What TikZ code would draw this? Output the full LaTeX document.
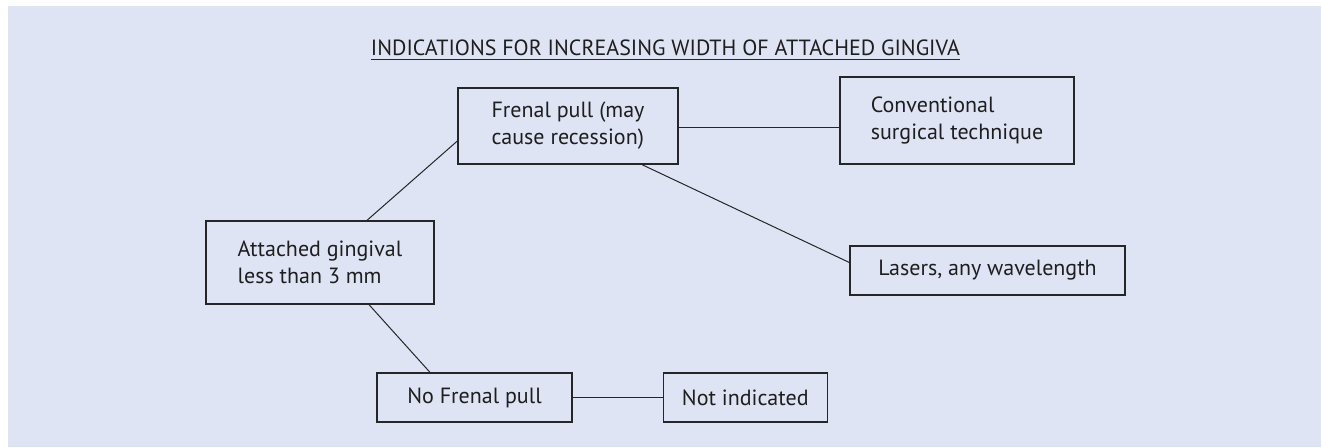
\documentclass[tikz,border=0pt]{standalone}
\usepackage{fontspec}
\setmainfont{PT Sans}
\usetikzlibrary{positioning}
\definecolor{panel}{HTML}{DFE4F4}
\definecolor{ink}{HTML}{262626}
\definecolor{txt}{HTML}{1E1E1E}

\begin{document}
\begin{tikzpicture}[x=1pt, y=-1pt, font=\fontsize{22}{27}\selectfont,
   box/.style={rectangle, draw=ink, line width=1.3pt, text=txt, align=left,
     inner sep=0pt},
   ln/.style={draw=ink, line width=1pt}]
 \useasboundingbox (0,0) rectangle (1321,447);
 \fill[panel] (8,6) rectangle (1321,447);
 % heading
 \node[text=txt, anchor=base, inner sep=0pt] (title) at (665.5,55)
      {INDICATIONS FOR INCREASING WIDTH OF ATTACHED GINGIVA};
 \draw[ln] ([yshift=-4pt]title.base west) -- ([yshift=-4pt]title.base east);
 % boxes
 \node[box, minimum width=220pt, minimum height=76pt] (frenal) at (568,126)
      {Frenal pull (may\\cause recession)};
 \node[box, minimum width=234pt, minimum height=87pt] (conv) at (957,120.5)
      {Conventional\\surgical technique};
 \node[box, minimum width=275pt, minimum height=49pt] (laser) at (987.5,270.5)
      {Lasers, any wavelength};
 \node[box, minimum width=228pt, minimum height=83pt] (attached) at (320,262.5)
      {Attached gingival\\less than 3 mm};
 \node[box, minimum width=195pt, minimum height=49pt] (nofrenal) at (474.5,397.5)
      {No Frenal pull};
 \node[box, minimum width=164pt, minimum height=49pt, right=90pt of nofrenal] (notind)
      {Not indicated};
 % links
 \draw[ln] ([yshift=-1pt]frenal.east) -- ([yshift=-1pt]frenal.east -| conv.west);
 \draw[ln] ([yshift=-15pt]frenal.west) -- ([xshift=47pt]attached.north);
 \draw[ln] ([xshift=74pt]frenal.south) -- ([yshift=8pt]laser.west);
 \draw[ln] ([xshift=49pt]attached.south) -- ([xshift=-44.5pt]nofrenal.north);
 \draw[ln] (nofrenal.east) -- (notind.west);
\end{tikzpicture}
\end{document}
